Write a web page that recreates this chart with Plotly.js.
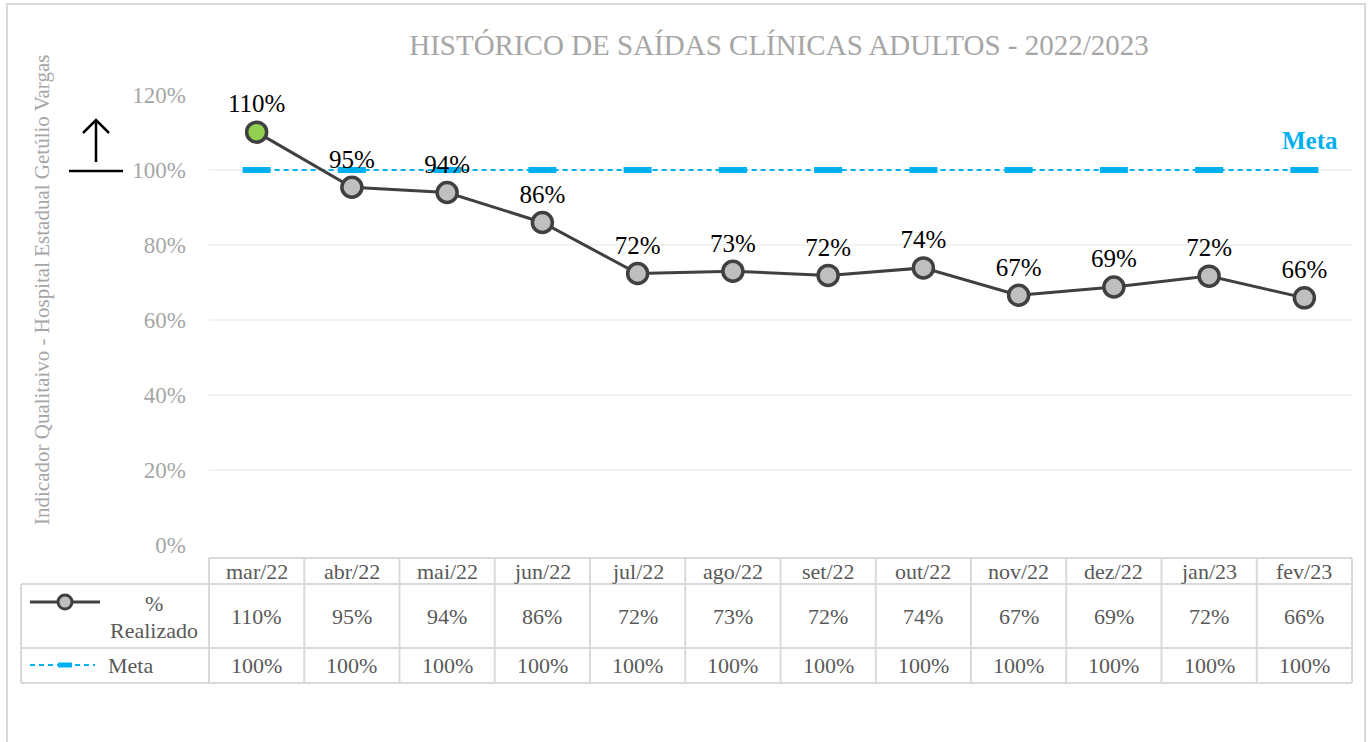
<!DOCTYPE html>
<html><head><meta charset="utf-8">
<script src="https://cdn.plot.ly/plotly-3.0.1.min.js"></script>
<style>html,body{margin:0;padding:0;background:#fff}#chart{width:1372px;height:742px}</style>
</head><body><div id="chart"></div>
<script>
const categories = ['mar/22','abr/22','mai/22','jun/22','jul/22','ago/22','set/22','out/22','nov/22','dez/22','jan/23','fev/23'];
const realizado = [110.1, 95.4, 94.0, 86.0, 72.4, 73.0, 71.9, 73.9, 66.6, 68.8, 71.7, 65.9];
const realizadoLabels = ['110%','95%','94%','86%','72%','73%','72%','74%','67%','69%','72%','66%'];
const meta = [100,100,100,100,100,100,100,100,100,100,100,100];
const metaLabels = ['100%','100%','100%','100%','100%','100%','100%','100%','100%','100%','100%','100%'];

const W = 1372, H = 742;
const L = 209, R = 1352, T = 95, B = 545;
const px = p => (p - L) / (R - L);
const py = p => (B - p) / (B - T);
const FONT = 'Liberation Serif';
const GRID = '#D9D9D9';
const TXT = '#595959';

const shapes = [];
const annotations = [];
const ann = o => annotations.push(Object.assign({xanchor:'center', yanchor:'middle', showarrow:false}, o));

// outer chart border
shapes.push({type:'rect', xref:'paper', yref:'paper', x0:px(7), x1:px(1365), y0:py(760), y1:py(4), line:{color:'#D9D9D9', width:2}, layer:'below'});

// data table lines
const n = categories.length;
const colW = (R - L) / n;
const hline = (y, x0, x1) => shapes.push({type:'line', xref:'paper', yref:'paper', x0:px(x0), x1:px(x1), y0:py(y), y1:py(y), line:{color:GRID, width:2}});
const vline = (x, y0, y1) => shapes.push({type:'line', xref:'paper', yref:'paper', x0:px(x), x1:px(x), y0:py(y0), y1:py(y1), line:{color:GRID, width:2}});
hline(558, L, R); hline(584, 21, R); hline(648, 21, R); hline(683, 21, R);
vline(21, 584, 683);
for (let k = 0; k <= n; k++) vline(L + k * colW, 558, 683);

// table text
categories.forEach((c, i) => {
  ann({xref:'x', yref:'paper', x:c, y:py(571), text:c, font:{family:FONT, size:22, color:TXT}});
  ann({xref:'x', yref:'paper', x:c, y:py(616), text:realizadoLabels[i], font:{family:FONT, size:22, color:TXT}});
  ann({xref:'x', yref:'paper', x:c, y:py(665), text:metaLabels[i], font:{family:FONT, size:22, color:TXT}});
});

// legend keys in table
shapes.push({type:'line', xref:'paper', yref:'paper', x0:px(30), x1:px(100), y0:py(602), y1:py(602), line:{color:'#404040', width:3}});
shapes.push({type:'circle', xref:'paper', yref:'paper', xsizemode:'pixel', ysizemode:'pixel', xanchor:px(65), yanchor:py(602), x0:-7, x1:7, y0:-7, y1:7, fillcolor:'#BFBFBF', line:{color:'#404040', width:3}});
ann({xref:'paper', yref:'paper', x:px(154), y:py(603), text:'%', font:{family:FONT, size:22, color:TXT}});
ann({xref:'paper', yref:'paper', x:px(154), y:py(630), text:'Realizado', font:{family:FONT, size:22, color:TXT}});
shapes.push({type:'line', xref:'paper', yref:'paper', x0:px(30), x1:px(95), y0:py(665), y1:py(665), line:{color:'#00B0F0', width:2, dash:'5px,4px'}});
shapes.push({type:'line', xref:'paper', yref:'paper', x0:px(58), x1:px(72), y0:py(665), y1:py(665), line:{color:'#00B0F0', width:5}});
ann({xref:'paper', yref:'paper', x:px(106), y:py(665), xanchor:'left', text:'Meta', font:{family:FONT, size:22, color:TXT}});

// arrow symbol on left
shapes.push({type:'path', xref:'paper', yref:'paper', path:`M${px(96)},${py(162)} L${px(96)},${py(120)} M${px(83)},${py(133)} L${px(96)},${py(120)} L${px(109)},${py(133)}`, line:{color:'#000', width:2.5}});
shapes.push({type:'line', xref:'paper', yref:'paper', x0:px(69), x1:px(123), y0:py(171), y1:py(171), line:{color:'#000', width:2.5}});

// Meta label
ann({xref:'paper', yref:'paper', x:px(1310), y:py(140), text:'<b>Meta</b>', font:{family:FONT, size:25, color:'#00B0F0'}});

// y axis title
ann({xref:'paper', yref:'paper', x:px(42), y:py(290), text:'Indicador Qualitaivo - Hospital Estadual Getúlio Vargas', textangle:-90, font:{family:FONT, size:21, color:'#A6A6A6'}});

const markerColors = realizado.map((v, i) => i === 0 ? '#92D050' : '#BFBFBF');

const traces = [
  {x:categories, y:meta, type:'scatter', mode:'lines+markers', name:'Meta', cliponaxis:false,
   line:{color:'#00B0F0', width:2, dash:'5px,4px'},
   marker:{symbol:'line-ew', size:20, line:{color:'#00B0F0', width:6}}, hoverinfo:'skip'},
  {x:categories, y:realizado, type:'scatter', mode:'lines+markers+text', name:'% Realizado', cliponaxis:false,
   text:realizadoLabels, textposition:'top center', textfont:{family:FONT, size:25, color:'#000'},
   line:{color:'#404040', width:3},
   marker:{size:20, color:markerColors, line:{color:'#404040', width:3.5}}}
];

const layout = {
  width:W, height:H,
  margin:{l:L, r:W-R, t:T, b:H-B, pad:0},
  paper_bgcolor:'#fff', plot_bgcolor:'#fff',
  showlegend:false,
  title:{text:'HISTÓRICO DE SAÍDAS CLÍNICAS ADULTOS - 2022/2023', x:px(779), xref:'paper', xanchor:'center', y:1-45/H, yanchor:'middle', font:{family:FONT, size:29, color:'#A6A6A6'}},
  xaxis:{type:'category', range:[-0.5, n-0.5], showticklabels:false, showgrid:false, zeroline:false, showline:false, ticks:''},
  yaxis:{range:[0,120], tickvals:[0,20,40,60,80,100,120], ticktext:['0%','20%','40%','60%','80%','100%','120%'],
         showgrid:true, gridcolor:'#F2F2F2', gridwidth:2, zeroline:false, showline:false, ticks:'',
         ticklabelstandoff:22, tickfont:{family:FONT, size:23, color:'#A6A6A6'}},
  shapes, annotations
};

Plotly.newPlot('chart', traces, layout, {displayModeBar:false, staticPlot:true});
</script>
</body></html>
